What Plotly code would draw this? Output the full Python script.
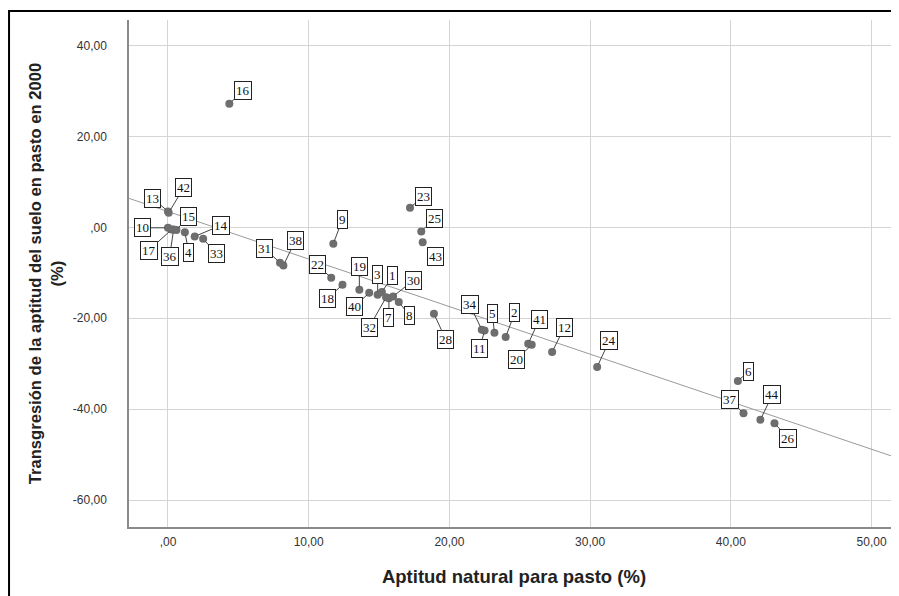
import numpy as np
import plotly.graph_objects as go

# datos (caso, aptitud natural, transgresion)
casos = [16, 13, 42, 10, 17, 36, 15, 4, 14, 33, 31, 38, 9, 22, 18, 19, 40, 3, 1, 32,
         7, 30, 8, 23, 25, 43, 28, 34, 11, 5, 2, 41, 20, 12, 24, 6, 37, 44, 26]
aptitud = [4.36, 0.0, 0.05, 0.0, 0.25, 0.4, 0.6, 1.2, 1.9, 2.5, 7.96, 8.2, 11.75, 11.6, 12.4,
           13.6, 14.3, 14.9, 15.2, 15.5, 15.7, 16.0, 16.4, 17.2, 18.0, 18.1, 18.9, 22.3, 22.5,
           23.2, 24.0, 25.6, 25.85, 27.3, 30.5, 40.5, 40.9, 42.1, 43.1]
transgresion = [27.2, 3.5, 3.2, -0.1, -0.5, -0.5, -0.6, -1.1, -2.0, -2.5, -7.8, -8.4, -3.6,
                -11.1, -12.6, -13.7, -14.4, -14.8, -14.2, -15.4, -15.6, -15.2, -16.4, 4.3, -0.9,
                -3.3, -19.0, -22.5, -22.7, -23.2, -24.1, -25.6, -25.8, -27.4, -30.7, -33.8,
                -40.9, -42.3, -43.1]

x_ticks = [0, 10, 20, 30, 40, 50]
x_ticktext = [",00", "10,00", "20,00", "30,00", "40,00", "50,00"]
y_ticks = [40, 20, 0, -20, -40, -60]
y_ticktext = ["40,00", "20,00", ",00", "-20,00", "-40,00", "-60,00"]

# desplazamiento de cada etiqueta respecto al punto (pixeles)
offsets = {16: (14, -13), 13: (-15, -13), 42: (15, -25), 10: (-25, 0), 17: (-23, 21),
           36: (-4, 27), 15: (12, -14), 4: (4, 20), 14: (26, -11), 33: (13, 15),
           31: (-15, -14), 38: (12, -25), 9: (9, -24), 22: (-14, -13), 18: (-15, 14),
           19: (0, -23), 40: (-15, 14), 3: (0, -20), 1: (11, -16), 32: (-17, 30),
           7: (0, 19), 30: (20, -16), 8: (11, 14), 23: (13, -11), 25: (13, -13),
           43: (13, 14), 28: (12, 26), 34: (-12, -25), 11: (-5, 18), 5: (-2, -19),
           2: (9, -24), 41: (11, -24), 20: (-15, 15), 12: (12, -24), 24: (12, -26),
           6: (11, -10), 37: (-14, -14), 44: (12, -25), 26: (14, 15)}

x_range = [-2.77, 51.95]
y_range = [-65.9, 45.6]

fig = go.Figure()

# recta de ajuste
pend, inter = np.polyfit(aptitud, transgresion, 1)
x_fit = np.array(x_range)
fig.add_trace(go.Scatter(x=x_fit, y=inter + pend * x_fit, mode="lines",
                         line=dict(color="#9a9a9a", width=1), hoverinfo="skip"))

fig.add_trace(go.Scatter(x=aptitud, y=transgresion, mode="markers",
                         marker=dict(color="#6e6e6e", size=8), text=casos))

for c, xv, yv in zip(casos, aptitud, transgresion):
    dx, dy = offsets[c]
    fig.add_annotation(x=xv, y=yv, text=str(c), showarrow=True, arrowhead=0,
                       arrowwidth=1, arrowcolor="#444", ax=dx, ay=dy, standoff=3,
                       bordercolor="#222", borderwidth=1, borderpad=1, bgcolor="white",
                       font=dict(family="Liberation Serif", size=13, color="#111"))

# marco exterior (solo se ven los lados izquierdo y superior)
fig.add_shape(type="rect", xref="paper", yref="paper",
              x0=-0.1558, x1=1.2, y0=-0.3, y1=1.0178,
              line=dict(color="black", width=2))

# la pagina tiene 8 px de margen en el body: se compensa en los margenes
fig.update_layout(
    width=899, height=596,
    margin=dict(l=121, r=8, t=12, b=77),
    plot_bgcolor="white", paper_bgcolor="white",
    showlegend=False,
    font=dict(family="Liberation Sans", color="#333"),
    xaxis=dict(range=x_range, tickvals=x_ticks, ticktext=x_ticktext, automargin=False,
               showgrid=True, gridcolor="#d4d4d4", gridwidth=1, zeroline=False,
               showline=True, linecolor="#8a8a8a", linewidth=1.5, ticks="",
               tickfont=dict(size=12), ticklabelstandoff=3,
               title=dict(text="<b>Aptitud natural para pasto (%)</b>",
                          font=dict(size=18.5, color="#222"), standoff=22)),
    yaxis=dict(range=y_range, tickvals=y_ticks, ticktext=y_ticktext, automargin=False,
               showgrid=True, gridcolor="#d4d4d4", gridwidth=1, zeroline=False,
               showline=True, linecolor="#8a8a8a", linewidth=1.5, ticks="",
               tickfont=dict(size=12), ticklabelstandoff=18,
               title=dict(text="<b>Transgresión de la aptitud del suelo en pasto en 2000<br>(%)</b>",
                          font=dict(size=16.6, color="#222"), standoff=5)),
)

fig.write_html("out.html")
